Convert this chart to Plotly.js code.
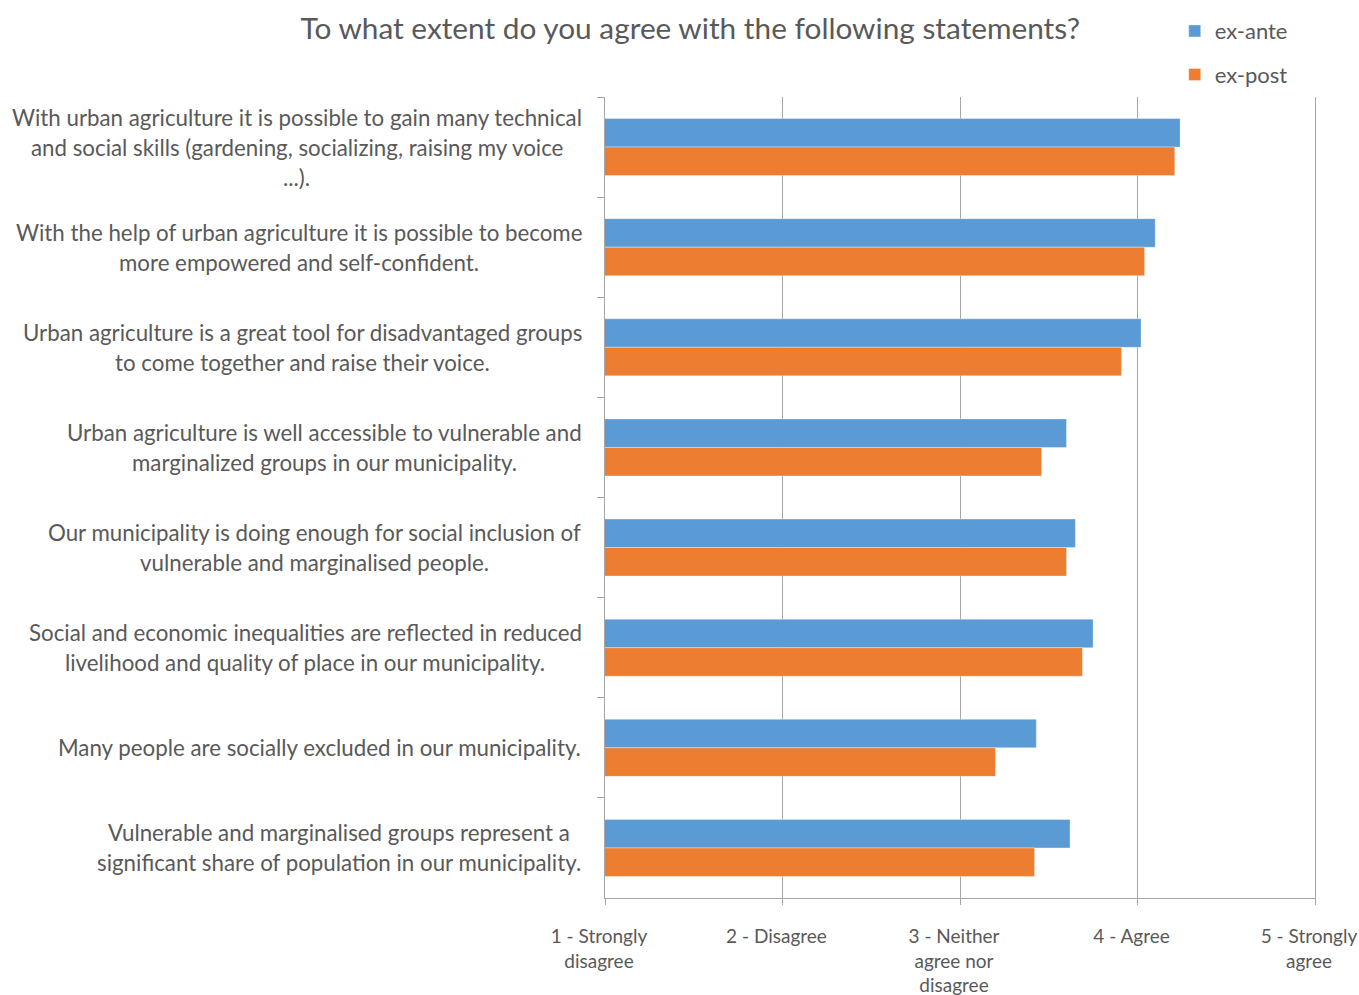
<!DOCTYPE html>
<html>
<head>
<meta charset="utf-8">
<script src="https://cdn.plot.ly/plotly-3.0.1.min.js"></script>
<style>
  html, body { margin: 0; padding: 0; background: #fff; }
  #chart { width: 1359px; height: 995px; }
</style>
</head>
<body>
<div id="chart"></div>
<script>
// Survey statements (top to bottom), line breaks as displayed
const statements = [
  "With urban agriculture it is possible to gain many technical<br>and social skills (gardening, socializing, raising my voice<br>...).",
  "With the help of urban agriculture it is possible to become<br>more empowered and self-confident.",
  "Urban agriculture is a great tool for disadvantaged groups<br>to come together and raise their voice.",
  "Urban agriculture is well accessible to vulnerable and<br>marginalized groups in our municipality.",
  "Our municipality is doing enough for social inclusion of<br>vulnerable and marginalised people.",
  "Social and economic inequalities are reflected in reduced<br>livelihood and quality of place in our municipality.",
  "Many people are socially excluded in our municipality.",
  "Vulnerable and marginalised groups represent a<br>significant share of population in our municipality."
];

// Mean agreement scores (1-5 Likert scale)
const exAnte = [4.24, 4.10, 4.02, 3.60, 3.65, 3.75, 3.43, 3.62];
const exPost = [4.21, 4.04, 3.91, 3.46, 3.60, 3.69, 3.20, 3.42];

// Likert scale ticks
const scaleValues = [1, 2, 3, 4, 5];
const scaleLabels = [
  "1 - Strongly<br>disagree",
  "2 - Disagree",
  "3 - Neither<br>agree nor<br>disagree",
  "4 - Agree",
  "5 - Strongly<br>agree"
];

const seriesNames = ["ex-ante", "ex-post"];
const seriesColors = ["#5B9BD5", "#ED7D31"];

const FONT = "Lato, 'Open Sans', sans-serif";
const TEXT_COLOR = "#595959";
const GRID_COLOR = "#a6a6a6";
const LABEL_SIZE = 22.3;
const LABEL_LINE_H = 30;
const LABEL_GAP = 23;

const traces = [exAnte, exPost].map((vals, k) => ({
  type: "bar",
  orientation: "h",
  name: seriesNames[k],
  legendgroup: seriesNames[k],
  x: vals,
  y: statements,
  marker: {
    color: seriesColors[k],
    line: { color: "rgba(255,255,255,0.35)", width: 1 }
  },
  hoverinfo: "x+name"
}));

// Statement labels: centred lines, block right-aligned against the axis
const ctx = document.createElement("canvas").getContext("2d");
ctx.font = LABEL_SIZE + "px Lato";
const annotations = [];
statements.forEach(stmt => {
  const lines = stmt.split("<br>");
  const blockW = Math.max(...lines.map(l => ctx.measureText(l).width));
  lines.forEach((line, i) => {
    annotations.push({
      xref: "paper", yref: "y",
      x: 0, y: stmt,
      xanchor: "center", yanchor: "middle",
      xshift: -LABEL_GAP - blockW / 2,
      yshift: ((lines.length - 1) / 2 - i) * LABEL_LINE_H,
      text: line,
      showarrow: false,
      font: { family: FONT, size: LABEL_SIZE, color: TEXT_COLOR }
    });
  });
});

const layout = {
  width: 1359,
  height: 995,
  margin: { l: 605, r: 44, t: 97, b: 97, pad: 0, autoexpand: false },
  paper_bgcolor: "#ffffff",
  plot_bgcolor: "#ffffff",
  font: { family: FONT, color: TEXT_COLOR },
  title: {
    text: "To what extent do you agree with the following statements?",
    font: { family: FONT, size: 29.8, color: TEXT_COLOR },
    xref: "container", x: 0.508, xanchor: "center",
    yref: "container", y: 0.971, yanchor: "middle"
  },
  barmode: "group",
  bargap: 0.43,
  bargroupgap: 0,
  showlegend: true,
  legend: {
    x: 0.8024, xanchor: "left",
    y: 1.1085, yanchor: "top",
    traceorder: "grouped",
    tracegroupgap: 12,
    font: { family: FONT, size: 22, color: TEXT_COLOR },
    bgcolor: "rgba(0,0,0,0)"
  },
  xaxis: {
    range: [1, 5],
    tickmode: "array",
    tickvals: scaleValues,
    ticktext: scaleLabels,
    ticks: "outside",
    ticklen: 6,
    tickcolor: GRID_COLOR,
    ticklabelshift: -6,
    ticklabelstandoff: 15,
    ticklabeloverflow: "allow",
    tickfont: { family: FONT, size: 19, color: TEXT_COLOR },
    showgrid: true,
    gridcolor: GRID_COLOR,
    gridwidth: 1,
    zeroline: false,
    showline: true,
    linecolor: GRID_COLOR,
    linewidth: 1,
    fixedrange: true
  },
  yaxis: {
    type: "category",
    autorange: "reversed",
    tickson: "boundaries",
    ticks: "outside",
    ticklen: 7,
    tickcolor: GRID_COLOR,
    showticklabels: false,
    showgrid: false,
    zeroline: false,
    showline: true,
    mirror: true,
    linecolor: GRID_COLOR,
    linewidth: 1,
    fixedrange: true
  },
  annotations: annotations
};

Plotly.newPlot("chart", traces, layout, { displayModeBar: false, staticPlot: true });
</script>
</body>
</html>
